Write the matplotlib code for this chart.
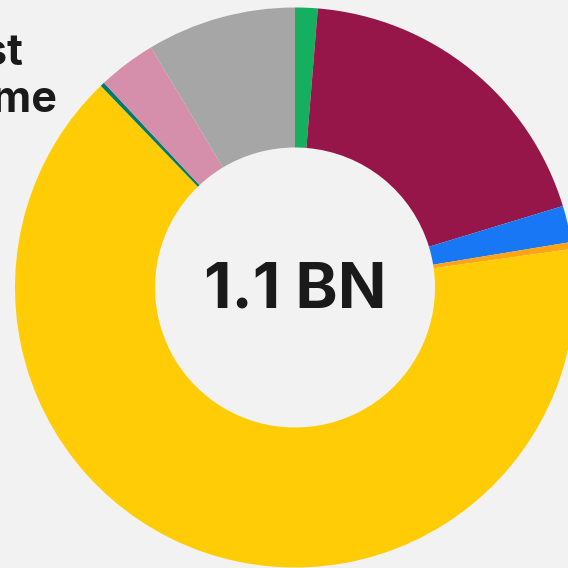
import matplotlib
matplotlib.use("Agg")
import matplotlib.pyplot as plt

# Share of total (percent), clockwise from 12 o'clock
segments = ["Green", "Maroon", "Blue", "Orange", "Yellow", "Teal", "Pink", "Gray"]
shares = [1.3, 19.0, 2.1, 0.4, 65.0, 0.25, 3.35, 8.6]
colors = ["#14b05f", "#96164a", "#1877f5", "#ffa514",
          "#ffcc05", "#007a6e", "#d68fab", "#a6a6a6"]
center_label = "1.1 BN"
title_lines = ["Largest", "volume"]
note_text = "Total"

BG = "#f2f2f2"
INK = "#1a1a1a"
W = H = 568

fig = plt.figure(figsize=(W / 100, H / 100), dpi=100, facecolor=BG)

# Donut axes: center at (295, 287.5) px from top-left, outer radius 280 px
cx, cy, r = 295, 287.5, 280
ax = fig.add_axes([(cx - r) / W, (H - cy - r) / H, 2 * r / W, 2 * r / H])
ax.set_facecolor(BG)
ax.pie(shares, colors=colors, startangle=90, counterclock=False,
       radius=1.0, wedgeprops=dict(width=0.5, edgecolor="none", linewidth=0))
ax.set_xlim(-1, 1)
ax.set_ylim(-1, 1)
ax.set_aspect("equal")
ax.axis("off")

# Center total, baseline placed about 20 px below the donut center
ax.text(0, -20.5 / r, center_label, ha="center", va="baseline",
        fontsize=46, fontweight="bold", family=["Inter", "DejaVu Sans"],
        color=INK)

# Title text running in from the left edge
fig.text(23.5 / W, (H - 65) / H, title_lines[0], ha="right", va="baseline",
         fontsize=31, fontweight="bold", family=["Inter", "DejaVu Sans"],
         color=INK)
fig.text(57.5 / W, (H - 112) / H, title_lines[1], ha="right", va="baseline",
         fontsize=31, fontweight="bold", family=["Inter", "DejaVu Sans"],
         color=INK)
fig.text(1.5 / W, (H - 152) / H, note_text, ha="right", va="baseline",
         fontsize=11, family=["Inter", "DejaVu Sans"], color="#b0b0b0")

fig.savefig("out.png", dpi=100, facecolor=BG)
